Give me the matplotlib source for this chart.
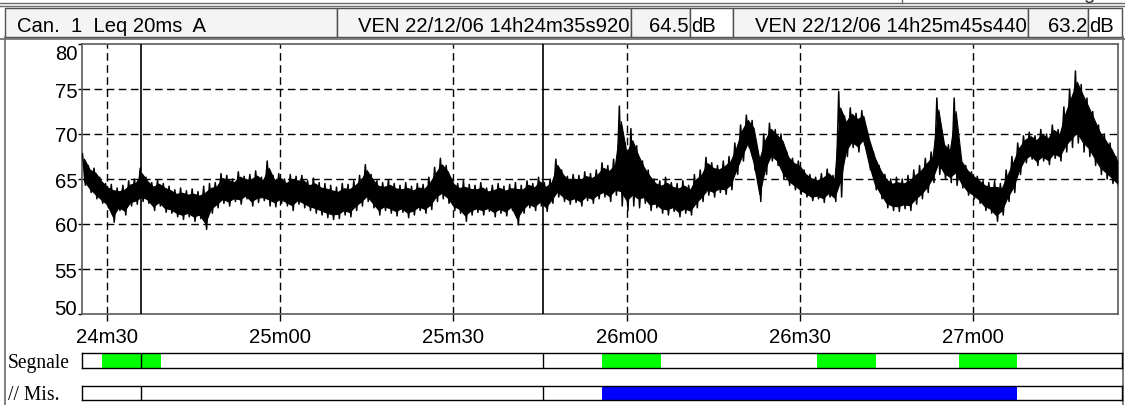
import matplotlib
matplotlib.use("Agg")
import matplotlib.pyplot as plt
import numpy as np
from matplotlib.patches import Rectangle

W, H = 1125, 406

# Leq 20ms A at 1 s steps starting 14h24m26s (t in s after 14h00m)
t_start = 1466
lev_hi = [67.8, 66.5, 66.2, 65.2, 64.5, 64.4, 64.0, 64.3, 64.8, 65.0,
          66.2, 65.2, 64.6, 64.9, 64.5, 64.2, 63.8, 64.0, 63.7, 63.9,
          63.6, 64.2, 64.5, 64.6, 65.6, 65.4, 65.0, 65.8, 65.3, 65.5,
          65.9, 65.2, 67.0, 65.4, 65.6, 65.0, 65.5, 65.3, 65.4, 64.8,
          65.1, 64.6, 64.5, 64.3, 64.1, 64.5, 64.4, 64.8, 65.4, 66.6,
          65.5, 64.8, 64.6, 64.9, 64.5, 64.3, 64.6, 64.2, 64.5, 64.4,
          65.2, 66.3, 67.3, 66.5, 65.0, 64.5, 64.8, 64.4, 64.3, 64.6,
          64.0, 64.3, 64.5, 64.2, 64.4, 64.6, 64.3, 64.8, 64.5, 65.2,
          64.6, 65.0, 67.2, 66.0, 65.3, 65.5, 65.4, 65.8, 65.6, 66.0,
          66.8, 66.5, 67.2, 73.1, 69.0, 70.6, 68.7, 67.0, 66.0, 65.0,
          64.8, 65.2, 64.6, 64.5, 64.8, 64.3, 65.5, 66.0, 67.4, 66.8,
          66.5, 67.0, 67.5, 69.0, 71.0, 72.1, 71.5, 68.0, 70.0, 71.2,
          70.5, 70.0, 68.0, 67.3, 67.0, 66.0, 65.5, 65.2, 65.6, 66.1,
          65.4, 74.7, 72.0, 72.9, 72.3, 72.6, 70.0, 68.0, 66.5, 65.5,
          65.0, 65.2, 65.0, 65.4, 66.0, 66.5, 67.3, 68.0, 74.0, 69.5,
          68.8, 74.0, 67.5, 66.5, 65.8, 65.3, 64.8, 64.6, 64.8, 64.5,
          66.0, 67.5, 69.0, 69.8, 70.2, 69.8, 70.5, 70.0, 71.0, 70.5,
          73.0, 75.0, 77.0, 75.5, 74.0, 72.5, 71.0, 70.0, 69.0, 67.5]
lev_lo = [64.3, 63.5, 62.8, 62.3, 61.8, 60.2, 61.5, 61.0, 62.0, 62.2,
          62.5, 62.3, 61.5, 62.0, 61.3, 61.2, 60.8, 60.5, 60.8, 60.3,
          60.6, 59.4, 61.2, 61.8, 62.3, 62.0, 62.5, 62.2, 62.8, 62.0,
          62.4, 62.6, 62.0, 61.9, 62.3, 62.0, 61.5, 62.2, 61.8, 61.5,
          61.2, 61.0, 60.7, 60.5, 60.6, 61.0, 60.8, 61.5, 62.0, 62.5,
          61.8, 61.0, 61.5, 61.2, 60.9, 61.3, 60.7, 61.0, 61.5, 61.2,
          61.6, 62.5, 62.8, 62.3, 61.5, 61.2, 60.3, 61.0, 61.3, 61.0,
          61.4, 60.8, 61.2, 60.9, 61.5, 59.9, 61.2, 61.8, 61.5, 62.0,
          61.4, 62.3, 63.0, 62.5, 62.2, 62.4, 62.0, 62.6, 62.3, 62.8,
          63.0, 62.5, 63.2, 62.0, 61.5, 62.0, 61.8, 62.3, 61.5, 61.8,
          61.2, 61.0, 61.4, 60.8, 61.2, 61.0, 61.8, 62.5, 63.2, 63.0,
          63.5, 63.3, 63.8, 65.5, 67.0, 68.5, 66.0, 62.5, 65.5, 67.0,
          66.5, 65.0, 64.3, 63.8, 63.3, 63.0, 62.6, 62.8, 62.4, 63.0,
          62.5, 63.0, 67.5, 68.5, 68.0, 68.8, 66.0, 63.8, 62.8, 61.8,
          61.5, 61.4, 61.7, 61.5, 62.2, 62.8, 63.5, 64.6, 65.5, 65.0,
          64.6, 64.3, 64.0, 63.2, 62.8, 62.3, 61.5, 61.2, 60.3, 61.0,
          62.5, 63.5, 65.5, 66.8, 67.2, 66.5, 67.0, 66.6, 67.3, 67.0,
          68.0, 68.5, 69.0, 68.0, 67.5, 66.5, 65.5, 65.0, 64.5, 64.0]

cursors = [1475.92, 1545.44]          # 14h24m35s920, 14h25m45s440
x_ticks = [1470, 1500, 1530, 1560, 1590, 1620]
x_labels = ["24m30", "25m00", "25m30", "26m00", "26m30", "27m00"]
y_ticks = [50, 55, 60, 65, 70, 75, 80]

seg_start = [1469.1, 1555.7, 1593.0, 1617.5]   # Segnale (green)
seg_end = [1479.4, 1566.0, 1603.2, 1627.6]
mis_start = [1555.7]                          # // Mis. (blue)
mis_end = [1627.6]

channel = "Can.  1  Leq 20ms  A"
cur_time = ["VEN 22/12/06 14h24m35s920", "VEN 22/12/06 14h25m45s440"]
cur_level = ["64.5", "63.2"]

SANS = ["Liberation Sans", "DejaVu Sans"]
SERIF = ["Liberation Serif", "DejaVu Serif"]
FS = 14.6

fig = plt.figure(figsize=(W / 100, H / 100), dpi=100)
fig.patch.set_facecolor("white")

def px_axes(x0, y0, x1, y1):
    return fig.add_axes([x0 / W, 1 - y1 / H, (x1 - x0) / W, (y1 - y0) / H])

px_per_s = 5.773
t_left = 1465.67

# ---- overlay for header / frame / labels
ov = fig.add_axes([0, 0, 1, 1])
ov.set_xlim(0, W)
ov.set_ylim(H, 0)
ov.axis("off")

gray = "#6a6a6a"
ov.plot([0, W], [4, 4], color=gray, lw=1)
ov.plot([0, W], [7, 7], color=gray, lw=1)
ov.plot([902, 902], [0, 4], color=gray, lw=1)
# top row of the instrument screen, cut off by the screenshot
for xx, s in [(927, "Lin"), (990, "A"), (1083, "g")]:
    ov.text(xx, 3, s, fontsize=FS, family=SANS, va="bottom", ha="left", color="#333")

cells = [(5, 337, channel, "left", 17, "#f4f4f4"),
         (337, 631, cur_time[0], "right", 629, "#f4f4f4"),
         (631, 690, cur_level[0], "right", 689, "#f4f4f4"),
         (690, 733, "dB", "left", 691, "white"),
         (733, 1028, cur_time[1], "right", 1027, "#f4f4f4"),
         (1028, 1088, cur_level[1], "right", 1087, "#f4f4f4"),
         (1088, 1122, "dB", "left", 1089, "white")]
for x0, x1, s, ha, xt, fc in cells:
    ov.add_patch(Rectangle((x0, 9), x1 - x0, 29, facecolor=fc, edgecolor="#505050", lw=1))
    ov.text(xt, 32, s, fontsize=FS, family=SANS, ha=ha, va="baseline", color="black")

# outer frame
ov.plot([0, W], [40, 40], color=gray, lw=1.2)
ov.plot([5, 5], [38, H], color=gray, lw=1.2)
ov.plot([1122.5, 1122.5], [38, H], color=gray, lw=1.2)

ov.text(8, 368, "Segnale", fontsize=14.1, family=SERIF, va="baseline", ha="left")
ov.text(8, 400, "// Mis.", fontsize=14.1, family=SERIF, va="baseline", ha="left")

# ---- main level plot
ax = px_axes(82, 45, 1118, 315)
t = t_start + np.arange(len(lev_hi))
hi = np.array(lev_hi)
lo = np.array(lev_lo)
span = hi - lo
# solid core of the trace, hairy zigzag out to the read extremes
ax.fill_between(t, lo + 0.15 * span, hi - 0.15 * span, color="black", lw=0.8, zorder=3)
tz = np.column_stack([t - 0.25, t + 0.25]).ravel()
yz = np.column_stack([hi, lo]).ravel()
ax.plot(tz, yz, color="black", lw=1.1, zorder=3)

dash = (0, (5.5, 3.2))
for yv in y_ticks[1:-1]:
    ax.axhline(yv, color="black", lw=1, ls=dash, zorder=1)
for xv in x_ticks:
    ax.axvline(xv, color="black", lw=1, ls=dash, zorder=1)
for c in cursors:
    ax.axvline(c, color="black", lw=1.2, zorder=4)

ax.set_xlim(t_left, t_left + (1118 - 82) / px_per_s)
ax.set_ylim(50, 80)
ax.set_xticks(x_ticks)
ax.set_xticklabels(x_labels, fontsize=FS, family=SANS)
ax.set_yticks(y_ticks)
ax.set_yticklabels([str(v) for v in y_ticks], fontsize=FS, family=SANS)
for lab, v in zip(ax.get_yticklabels(), y_ticks):
    if v == 80:
        lab.set_va("top")
    elif v == 50:
        lab.set_va("baseline")
    else:
        lab.set_va("center_baseline")
ax.tick_params(axis="x", direction="out", length=5, width=1, pad=4.5)
ax.tick_params(axis="y", direction="out", length=3, width=1, pad=0.5)
for sp in ax.spines.values():
    sp.set_color("#5a5a5a")
    sp.set_linewidth(1.2)

# ---- Segnale / Mis. bars
def state_bar(y0, y1, starts, ends, color):
    b = px_axes(82, y0, 1122, y1)
    b.set_xlim(t_left, t_left + (1122 - 82) / px_per_s)
    b.set_ylim(0, 1)
    for s, e in zip(starts, ends):
        b.axvspan(s, e, color=color, lw=0)
    for c in cursors:
        b.axvline(c, color="black", lw=1)
    b.set_xticks([])
    b.set_yticks([])
    for sp in b.spines.values():
        sp.set_color("black")
        sp.set_linewidth(1)
    return b

state_bar(354, 369, seg_start, seg_end, "#00ff00")
state_bar(387, 401, mis_start, mis_end, "#0000ff")

fig.savefig("out.png", dpi=100)
